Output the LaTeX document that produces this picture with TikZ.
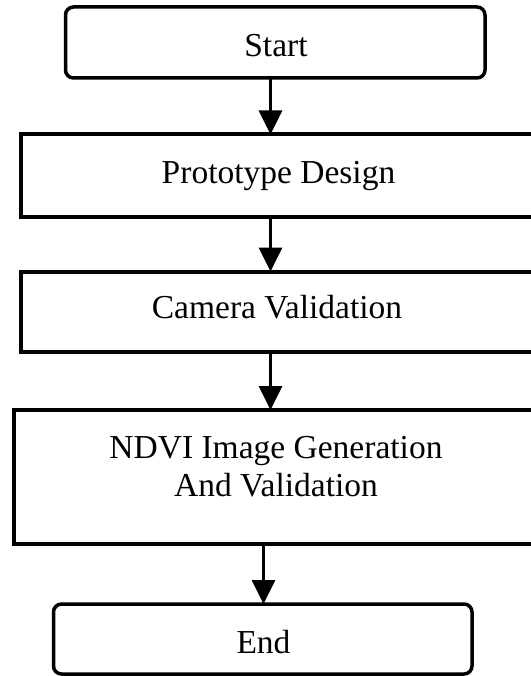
\documentclass[tikz,border=0pt]{standalone}
\usepackage{fontspec}
\setmainfont{Liberation Serif}
\usetikzlibrary{arrows.meta}
\begin{document}
\begin{tikzpicture}[x=1pt,y=-1pt,
  lbl/.style={font=\fontsize{33.5}{38.5}\selectfont, inner sep=0pt, anchor=base},
  stepbox/.style={draw, line width=4pt, anchor=north west, outer sep=0pt, inner sep=0pt},
  termbox/.style={draw, line width=3.5pt, rounded corners=8pt, anchor=north west, outer sep=0pt, inner sep=0pt},
  flow/.style={line width=3pt, -{Triangle[length=24pt,width=23pt]}}]
\useasboundingbox (0,0) rectangle (530,676);

% boxes (the process boxes run past the right edge of the page)
\node[termbox, minimum width=419.5pt, minimum height=71pt] (start) at (65.5,7) {};
\node[stepbox, minimum width=516pt, minimum height=82pt] (proto) at (20.5,134.5) {};
\node[stepbox, minimum width=512pt, minimum height=80.5pt] (camera) at (20.5,271.5) {};
\node[stepbox, minimum width=524pt, minimum height=133.5pt] (ndvi) at (14,410) {};
\node[termbox, minimum width=418.5pt, minimum height=70pt] (end) at (53.5,604) {};

% labels
\node[lbl] (startlbl) at (276,57) {Start};
\node[lbl] (protolbl) at (278.5,183.3) {Prototype Design};
\node[lbl] (cameralbl) at (277,318.3) {Camera Validation};
\node[lbl] (ndvilblA) at (276,458) {NDVI Image Generation};
\node[lbl] (ndvilblB) at (276,496.5) {And Validation};
\node[lbl] (endlbl) at (263.5,653) {End};

% connectors
\coordinate (ax) at (270.5,0);
\coordinate (bx) at (263.5,0);
\draw[flow] (start.south -| ax) -- (proto.north -| ax);
\draw[flow] (proto.south -| ax) -- (camera.north -| ax);
\draw[flow] (camera.south -| ax) -- (ndvi.north -| ax);
\draw[flow] (ndvi.south -| bx) -- (end.north -| bx);
\end{tikzpicture}
\end{document}
